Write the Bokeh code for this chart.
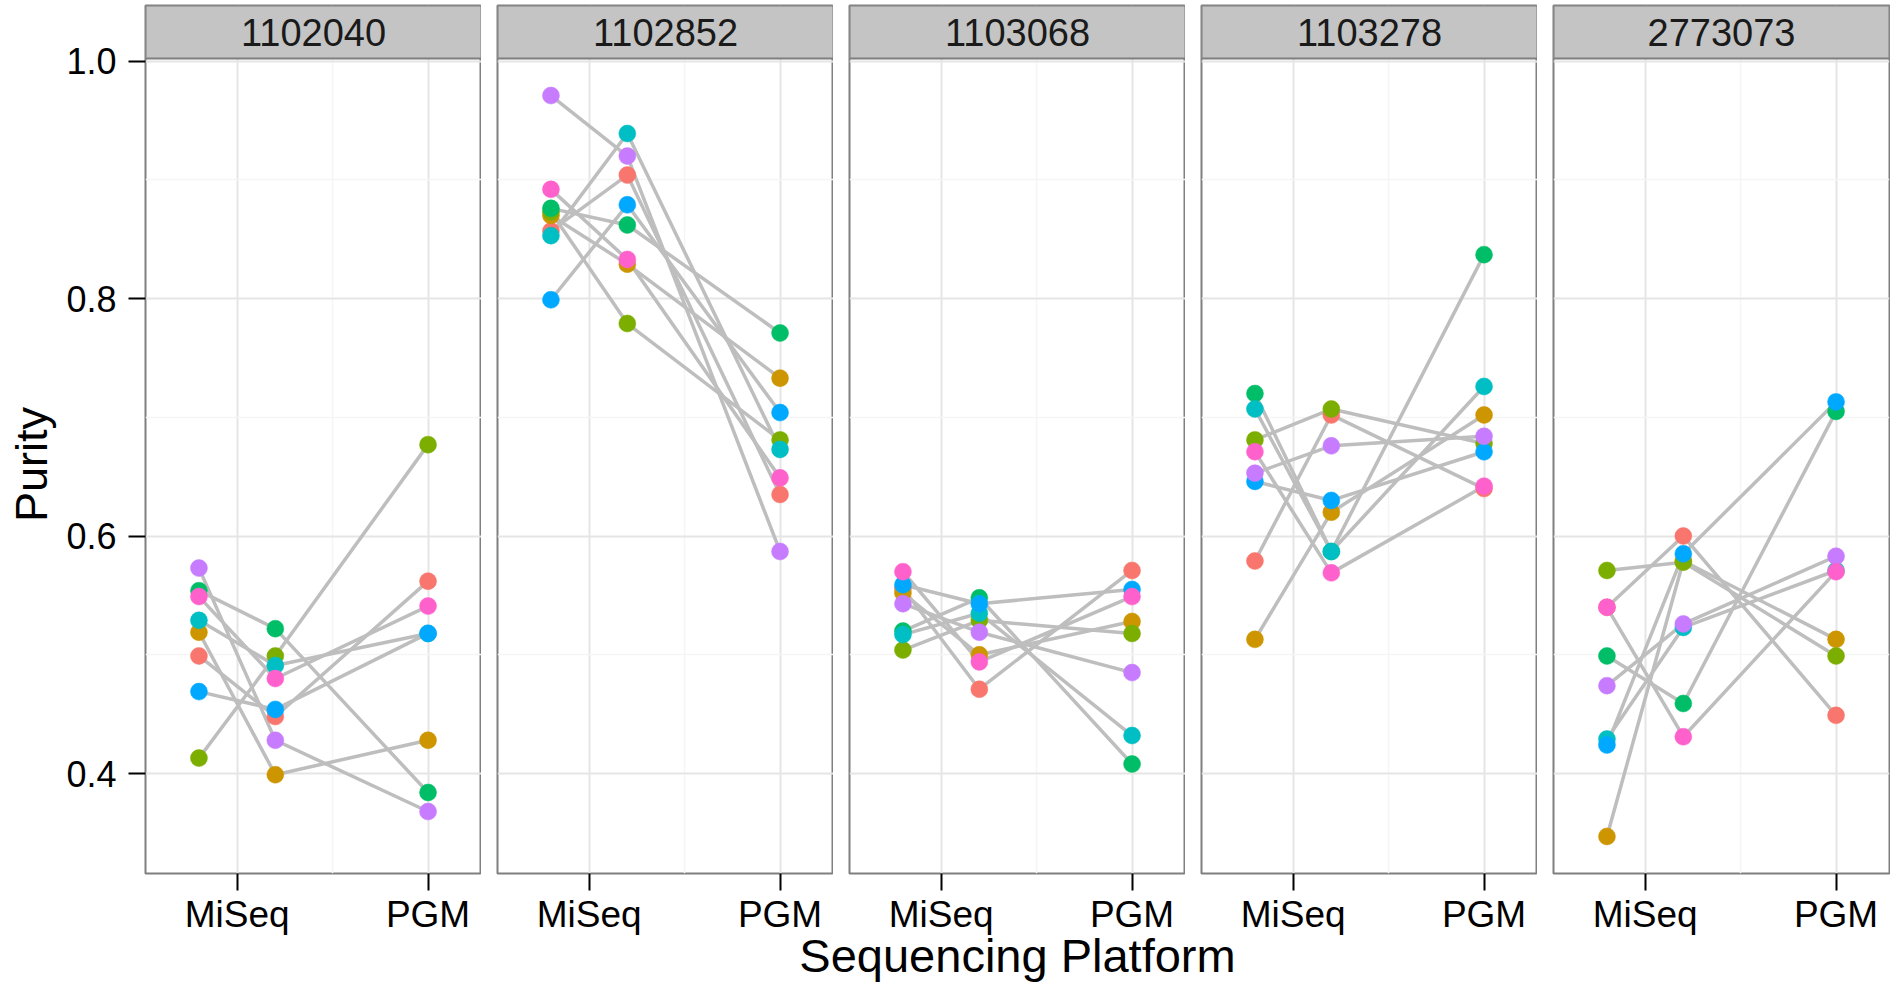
from bokeh.plotting import figure
from bokeh.layouts import row, column
from bokeh.models import FixedTicker, BoxAnnotation, Label
from bokeh.embed import file_html
from bokeh.resources import INLINE

# ---------------- data ----------------
facets = ["1102040", "1102852", "1103068", "1103278", "2773073"]
platforms = ["MiSeq", "PGM"]
x_title = "Sequencing Platform"
y_title = "Purity"
# three runs per sample: two MiSeq runs (dodged) and one PGM run
run_platform = [0, 0, 1]
run_dodge = [-0.2, 0.2, 0.0]
groups = ["s1", "s2", "s3", "s4", "s5", "s6", "s7", "s8"]
colors = ["#F8766D", "#CD9600", "#7CAE00", "#00BE67",
          "#00BFC4", "#00A9FF", "#C77CFF", "#FF61CC"]

# purity per group (rows, in `groups` order) x run (columns)
purity_1102040 = [[0.499, 0.448, 0.562], [0.519, 0.399, 0.428],
                  [0.413, 0.499, 0.677], [0.554, 0.522, 0.384],
                  [0.529, 0.491, 0.518], [0.469, 0.454, 0.518],
                  [0.573, 0.428, 0.368], [0.549, 0.480, 0.541]]
purity_1102852 = [[0.857, 0.904, 0.635], [0.870, 0.829, 0.733],
                  [0.873, 0.779, 0.681], [0.876, 0.862, 0.771],
                  [0.853, 0.939, 0.673], [0.799, 0.879, 0.704],
                  [0.971, 0.920, 0.587], [0.892, 0.833, 0.649]]
purity_1103068 = [[0.556, 0.471, 0.571], [0.552, 0.500, 0.528],
                  [0.504, 0.529, 0.518], [0.520, 0.548, 0.408],
                  [0.517, 0.535, 0.432], [0.559, 0.543, 0.555],
                  [0.543, 0.519, 0.485], [0.570, 0.494, 0.549]]
purity_1103278 = [[0.579, 0.702, 0.640], [0.513, 0.620, 0.702],
                  [0.681, 0.707, 0.678], [0.720, 0.587, 0.837],
                  [0.707, 0.587, 0.726], [0.646, 0.630, 0.671],
                  [0.653, 0.676, 0.684], [0.671, 0.569, 0.642]]
purity_2773073 = [[0.540, 0.600, 0.449], [0.347, 0.579, 0.513],
                  [0.571, 0.578, 0.499], [0.499, 0.459, 0.705],
                  [0.429, 0.523, 0.571], [0.424, 0.585, 0.713],
                  [0.474, 0.526, 0.583], [0.540, 0.431, 0.570]]
purity = [purity_1102040, purity_1102852, purity_1103068,
          purity_1103278, purity_2773073]

y_ticks = [0.4, 0.6, 0.8, 1.0]
y_tick_labels = ["0.4", "0.6", "0.8", "1.0"]
y_minor = [0.5, 0.7, 0.9]

# ---------------- scales ----------------
run_x = [run_platform[j] + 1 + run_dodge[j] for j in range(3)]
allv = [v for f in purity for g in f for v in g]
vmin, vmax = min(allv), max(allv)
rng = vmax - vmin
y_lo = vmin - 0.05 * rng
y_hi = vmax + 0.05 * rng
xr = max(run_x) - min(run_x)
x_lo = min(run_x) - 0.2333 * xr
x_hi = max(run_x) + 0.2333 * xr

# ---------------- layout constants ----------------
TOTAL_W = 1890
TOTAL_H = 982
LEFT = 145
GAP = 16
PANEL_H = 815
STRIP_H = 53
FRAME_W = 336
TOP = 5
BOTTOM = 80
ROW_H = TOP + STRIP_H + PANEL_H + BOTTOM
TITLE_TOP = 923            # where the (transparent) title strip begins
TITLE_H = TOTAL_H - TITLE_TOP
y_top = y_hi + STRIP_H / PANEL_H * (y_hi - y_lo)

FONT = "Liberation Sans"
GRID_MAJOR = "#E5E5E5"
GRID_MINOR = "#F5F5F5"
BORDER = "#7F7F7F"
# the axis label is centred on panel + strip; trailing no-break spaces
# move the visible word down so it is centred on the data panel itself
Y_TITLE_PAD = "\u00a0" * 4

figs = []
for k, fac in enumerate(facets):
    vals = purity[k]
    p = figure(frame_width=FRAME_W, frame_height=PANEL_H + STRIP_H,
               x_range=(x_lo, x_hi), y_range=(y_lo, y_top),
               output_backend="svg", toolbar_location=None,
               y_axis_location="left" if k == 0 else None,
               min_border_left=LEFT if k == 0 else GAP,
               min_border_right=1 if k == len(facets) - 1 else 0,
               min_border_top=TOP, min_border_bottom=BOTTOM,
               background_fill_color="white", border_fill_color="white")
    p.outline_line_color = BORDER
    p.outline_line_width = 2
    p.outline_line_alpha = 1

    # grids
    p.xgrid.ticker = FixedTicker(ticks=[1, 2], minor_ticks=[1.5])
    p.ygrid.ticker = FixedTicker(ticks=y_ticks, minor_ticks=y_minor)
    for g in (p.xgrid[0], p.ygrid[0]):
        g.grid_line_color = GRID_MAJOR
        g.grid_line_width = 2
        g.minor_grid_line_color = GRID_MINOR
        g.minor_grid_line_width = 1.5

    # x axis
    xa = p.xaxis[0]
    xa.ticker = FixedTicker(ticks=[1, 2])
    xa.major_label_overrides = {1: platforms[0], 2: platforms[1]}
    xa.axis_line_color = None
    xa.major_tick_out = 17
    xa.major_tick_in = 0
    xa.major_tick_line_width = 2
    xa.major_tick_line_color = "black"
    xa.minor_tick_line_color = None
    xa.major_label_text_font = FONT
    xa.major_label_text_font_size = "37px"
    xa.major_label_text_color = "black"
    xa.major_label_standoff = 3

    if k == 0:
        ya = p.yaxis[0]
        ya.ticker = FixedTicker(ticks=y_ticks)
        ya.major_label_overrides = {t: l for t, l in zip(y_ticks, y_tick_labels)}
        ya.axis_line_color = None
        ya.major_tick_out = 17
        ya.major_tick_in = 0
        ya.major_tick_line_width = 2
        ya.major_tick_line_color = "black"
        ya.minor_tick_line_color = None
        ya.major_label_text_font = FONT
        ya.major_label_text_font_size = "36px"
        ya.major_label_text_color = "black"
        ya.major_label_standoff = 12
        ya.axis_label = y_title + Y_TITLE_PAD
        ya.axis_label_text_font = FONT
        ya.axis_label_text_font_size = "45px"
        ya.axis_label_text_font_style = "normal"
        ya.axis_label_text_color = "black"
        ya.axis_label_standoff = 6

    # lines
    p.multi_line(xs=[run_x for _ in groups], ys=[list(v) for v in vals],
                 line_color="#BEBEBE", line_width=3.5)
    # points
    px, py, pc = [], [], []
    for gi, gv in enumerate(vals):
        for j in range(3):
            px.append(run_x[j])
            py.append(gv[j])
            pc.append(colors[gi])
    p.scatter(px, py, size=17, fill_color=pc, line_color=pc, line_width=0.5)

    # facet strip
    p.add_layout(BoxAnnotation(bottom=y_hi, fill_color="#C4C4C4", fill_alpha=1,
                               line_color=BORDER, line_width=2, line_alpha=1))
    p.add_layout(Label(x=(x_lo + x_hi) / 2, y=(y_hi + y_top) / 2, text=fac,
                       text_align="center", text_baseline="middle",
                       text_font=FONT, text_font_size="38px",
                       text_color="#1A1A1A"))
    figs.append(p)

# shared x-axis title, centred under the panels (transparent strip that
# slightly overlaps the bottom margin of the panel row)
panels_w = len(facets) * FRAME_W + (len(facets) - 1) * GAP
tf = figure(width=TOTAL_W, height=TITLE_H, x_range=(0, TOTAL_W),
            y_range=(0, TITLE_H), output_backend="svg", toolbar_location=None,
            x_axis_location=None, y_axis_location=None,
            min_border=0, outline_line_color=None,
            background_fill_alpha=0, border_fill_alpha=0)
tf.margin = (TITLE_TOP - ROW_H, 0, 0, 0)
tf.xgrid.visible = False
tf.ygrid.visible = False
tf.add_layout(Label(x=LEFT + panels_w / 2, y=27, text=x_title,
                    text_align="center", text_baseline="alphabetic",
                    text_font=FONT, text_font_size="47px",
                    text_color="black"))

layout = column(row(*figs), tf)
open("out.html", "w").write(file_html(layout, INLINE))
